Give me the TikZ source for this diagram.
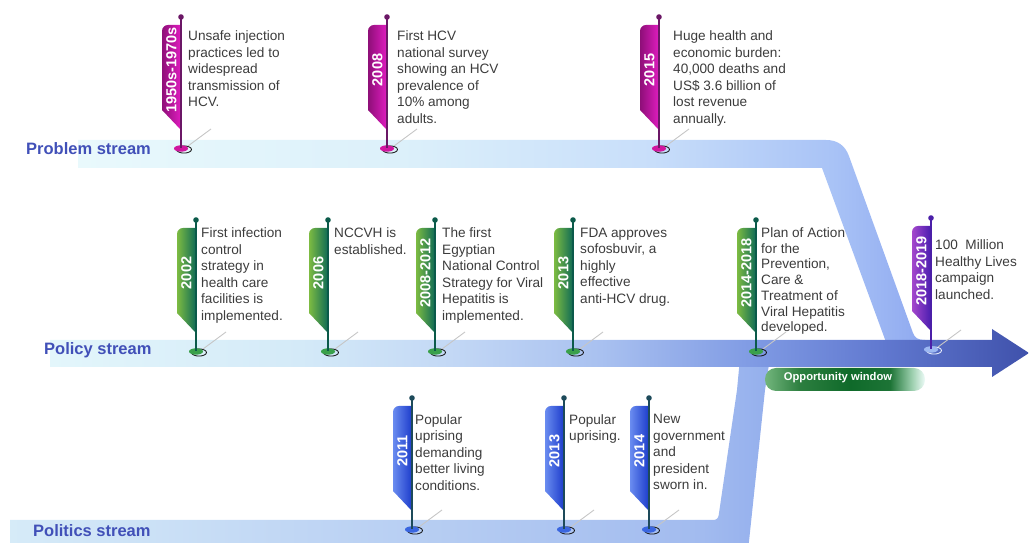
\documentclass[tikz,border=0pt]{standalone}
\usepackage{fontspec}
\setmainfont{Liberation Sans}
\usetikzlibrary{calc}

\definecolor{txtgrey}{HTML}{3C3C3C}
\definecolor{streamblue}{HTML}{4150B8}
\definecolor{probL}{HTML}{8E0F78}
\definecolor{probR}{HTML}{E01CC0}
\definecolor{probP}{HTML}{6B1766}
\definecolor{probB}{HTML}{D0169F}
\definecolor{probK}{HTML}{111111}
\definecolor{polL}{HTML}{7DBB42}
\definecolor{polR}{HTML}{0F6B55}
\definecolor{polP}{HTML}{0B5A4A}
\definecolor{polB}{HTML}{3AA04A}
\definecolor{polK}{HTML}{111111}
\definecolor{politL}{HTML}{6A8CF0}
\definecolor{politR}{HTML}{1C3CCB}
\definecolor{politP}{HTML}{1D4A5A}
\definecolor{politB}{HTML}{3A66E0}
\definecolor{politK}{HTML}{111111}
\definecolor{vioL}{HTML}{A548CC}
\definecolor{vioR}{HTML}{4A1DB0}
\definecolor{vioP}{HTML}{4B1FA8}
\definecolor{vioB}{HTML}{9DB8F2}
\definecolor{vioK}{HTML}{F2F6FF}

\definecolor{pa1}{HTML}{E3F6FB}
\definecolor{pa2}{HTML}{D4EAF8}
\definecolor{pa3}{HTML}{C3D8F5}
\definecolor{pa4}{HTML}{A9C1F0}
\definecolor{pa5}{HTML}{809BE4}
\definecolor{pa6}{HTML}{6179D0}
\definecolor{pa7}{HTML}{3F51AB}
\pgfdeclarehorizontalshading{policyshade}{100bp}{color(0bp)=(pa1); color(25bp)=(pa1);
  color(37.8bp)=(pa2); color(45.4bp)=(pa3); color(53.1bp)=(pa4); color(60.8bp)=(pa5);
  color(67.4bp)=(pa6); color(75bp)=(pa7); color(100bp)=(pa7)}

\definecolor{pb1}{HTML}{E9F9FC}
\definecolor{pb2}{HTML}{DCF0FA}
\definecolor{pb3}{HTML}{C8DEFA}
\definecolor{pb4}{HTML}{A9C3F6}
\definecolor{pb5}{HTML}{8FA9F0}
\pgfdeclarehorizontalshading{problemshade}{100bp}{color(0bp)=(pb1); color(25bp)=(pb1);
  color(44.1bp)=(pb2); color(58.9bp)=(pb3); color(69.5bp)=(pb4); color(75bp)=(pb5);
  color(100bp)=(pb5)}

\definecolor{pc1}{HTML}{D6EBF8}
\definecolor{pc2}{HTML}{C0D6F4}
\definecolor{pc3}{HTML}{A2BBEF}
\definecolor{pc4}{HTML}{94AFED}
\pgfdeclarehorizontalshading{politicsshade}{100bp}{color(0bp)=(pc1); color(25bp)=(pc1);
  color(44.1bp)=(pc2); color(70.5bp)=(pc3); color(75bp)=(pc4); color(100bp)=(pc4)}

\definecolor{ow1}{HTML}{72B57C}
\definecolor{ow2}{HTML}{2C7E3F}
\definecolor{ow3}{HTML}{0F6A2A}
\definecolor{ow4}{HTML}{1D7436}
\definecolor{ow5}{HTML}{9CCFAE}
\definecolor{ow6}{HTML}{EEFBF8}
\pgfdeclarehorizontalshading{windowshade}{100bp}{color(0bp)=(ow1); color(25bp)=(ow1);
  color(35.9bp)=(ow2); color(51.6bp)=(ow3); color(64.1bp)=(ow4); color(70.9bp)=(ow5);
  color(75bp)=(ow6); color(100bp)=(ow6)}

\newcommand{\streamflag}[4]{%
  \shade[left color=#3L, right color=#3R]
    (#1,#2-8) -- (#1-13,#2-8) arc[start angle=90, end angle=180, radius=6]
    -- (#1-19,#2-93) -- (#1,#2-113) -- cycle;
  \draw[gray!45, line width=0.9pt] (#1+7,#2-129) -- (#1+30,#2-112);
  \draw[#3K, line width=0.8pt] (#1+3,#2-132.5) ellipse[x radius=7.5, y radius=3.6];
  \fill[#3B] (#1,#2-131.5) ellipse[x radius=7, y radius=3.2];
  \draw[#3P, line width=1.4pt] (#1,#2) -- (#1,#2-131);
  \fill[#3P] (#1,#2) circle[radius=2.8];
  \node[yearlbl] at (#1-9.5,#2-53) {#4};
}

\begin{document}
\begin{tikzpicture}[x=1pt, y=1pt,
    yearlbl/.style={rotate=90, text=white, inner sep=0pt,
      font=\bfseries\fontsize{14.5}{14.5}\selectfont},
    note/.style={anchor=north west, align=left, inner sep=0pt, text=txtgrey,
      font=\fontsize{13.6}{16.6}\selectfont},
    stream/.style={anchor=base west, inner sep=0pt, text=streamblue,
      font=\bfseries\fontsize{16.5}{16.5}\selectfont}]
  \useasboundingbox (0,0) rectangle (1029,543);
  \clip (0,0) rectangle (1029,543);

  \shade[shading=problemshade]
    (78,403) -- (826,403) .. controls (837.3,403) and (845,397.7) .. (848.9,387.1)
    -- (913,210) .. controls (915,205) and (918,203) .. (925,203)
    -- (925,190) -- (890,190) -- (822,375) -- (78,375) -- cycle;
  \shade[shading=politicsshade]
    (10,23) -- (713,23) .. controls (716.3,23) and (718.2,24.6) .. (718.7,27.9)
    -- (737,153) -- (740,185) -- (770,185) -- (765,153) -- (748,-8) -- (10,-8) -- cycle;
  \shade[shading=policyshade]
    (50,203) -- (992,203) -- (992,214) -- (1029,190) -- (992,166) -- (992,176)
    -- (50,176) -- cycle;
  \shade[shading=windowshade, rounded corners=11pt] (765,175) rectangle (925,152);
  \node[anchor=base, inner sep=0pt, text=white, font=\bfseries\fontsize{11.2}{11.2}\selectfont]
    (window) at (838,162) {Opportunity window};

  \streamflag{181}{526}{prob}{1950s-1970s}
  \streamflag{387}{526}{prob}{2008}
  \streamflag{659}{526}{prob}{2015}
  \streamflag{196}{323}{pol}{2002}
  \streamflag{328}{323}{pol}{2006}
  \streamflag{435}{323}{pol}{2008-2012}
  \streamflag{573}{323}{pol}{2013}
  \streamflag{756}{323}{pol}{2014-2018}
  \streamflag{931}{325}{vio}{2018-2019}
  \streamflag{412}{145}{polit}{2011}
  \streamflag{564}{145}{polit}{2013}
  \streamflag{649}{145}{polit}{2014}

  \node[note] (prob1) at (188,512.5)
    {Unsafe injection\\practices led to\\widespread\\transmission of\\HCV.};
  \node[note] (prob2) at (397,512.5)
    {First HCV\\national survey\\showing an HCV\\prevalence of\\10\% among\\adults.};
  \node[note] (prob3) at (673,512.5)
    {Huge health and\\economic burden:\\40,000 deaths and\\US\$ 3.6 billion of\\lost revenue\\annually.};

  \node[note] (pol1) at (201,315.5)
    {First infection\\control\\strategy in\\health care\\facilities is\\implemented.};
  \node[note] (pol2) at (334,315.5) {NCCVH is\\established.};
  \node[note] (pol3) at (442,315.5)
    {The first\\Egyptian\\National Control\\Strategy for Viral\\Hepatitis is\\implemented.};
  \node[note] (pol4) at (580,315.5)
    {FDA approves\\sofosbuvir, a\\highly\\effective\\anti-HCV drug.};
  \node[note, font=\fontsize{13.6}{15.7}\selectfont] (pol5) at (761,315.5)
    {Plan of Action\\for the\\Prevention,\\Care \&\\Treatment of\\Viral Hepatitis\\developed.};
  \node[note] (pol6) at (935,303.5)
    {100~~Million\\Healthy Lives\\campaign\\launched.};

  \node[note] (polit1) at (415,129)
    {Popular\\uprising\\demanding\\better living\\conditions.};
  \node[note] (polit2) at (569,129) {Popular\\uprising.};
  \node[note] (polit3) at (653,129)
    {New\\government\\and\\president\\sworn in.};

  \node[stream] (problem) at (26,388) {Problem stream};
  \node[stream] (policy) at (44,188) {Policy stream};
  \node[stream] (politics) at (33,6) {Politics stream};
\end{tikzpicture}
\end{document}
